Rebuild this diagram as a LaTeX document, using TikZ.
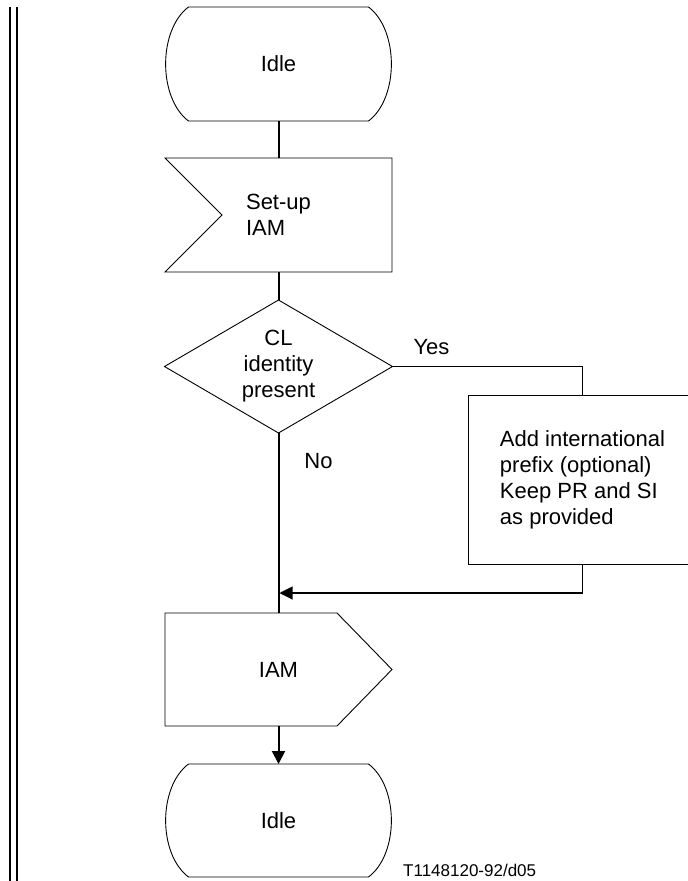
\documentclass[tikz,border=0pt]{standalone}
\usepackage{fontspec}
\setmainfont{Liberation Sans}
\usetikzlibrary{calc,arrows.meta}
\tikzset{
  frame/.style={inner sep=0pt, outer sep=0pt, align=center, font=\fontsize{22}{26}\selectfont},
  outline/.style={draw=black, line width=0.9pt, line join=miter},
  flow/.style={draw=black, line width=2pt},
  branch/.style={draw=black, line width=1.1pt},
  tip/.style={-{Triangle[length=13pt,width=13pt]}},
  lbl/.style={inner sep=0pt, font=\fontsize{22}{26}\selectfont},
  reflbl/.style={inner sep=0pt, font=\fontsize{17}{20}\selectfont},
  bar/.style={draw=black, line width=2.3pt}
}
\begin{document}
\begin{tikzpicture}[x=1pt,y=-1pt]
\useasboundingbox (0,0) rectangle (688,881);
\clip (0,0) rectangle (688,881);

% left margin double bar
\draw[bar] (10,7) -- (10,885);
\draw[bar] (16.7,7) -- (16.7,885);

% top Idle (state)
\node[frame, minimum width=225pt, minimum height=114pt] (idle1) at (278.5,64) {Idle};
\draw[outline] ($(idle1.north west)+(22.5,0)$) -- ($(idle1.north east)+(-22.5,0)$)
  .. controls ($(idle1.north east)+(8,23)$) and ($(idle1.south east)+(8,-23)$) .. ($(idle1.south east)+(-22.5,0)$)
  -- ($(idle1.south west)+(22.5,0)$)
  .. controls ($(idle1.south west)+(-8,-23)$) and ($(idle1.north west)+(-8,23)$) .. cycle;

% Set-up IAM (input signal)
\node[frame, align=left, minimum width=227pt, minimum height=114pt] (setup) at (278.5,215) {Set-up\\IAM};
\draw[outline] (setup.north west) -- (setup.north east) -- (setup.south east) -- (setup.south west)
  -- ($(setup.west)+(57,0)$) -- cycle;

% decision
\node[frame, minimum width=228pt, minimum height=133pt] (dec) at (278.5,366.5) {CL\\identity\\present};
\draw[outline] (dec.north) -- (dec.east) -- (dec.south) -- (dec.west) -- cycle;

% task box (extends beyond right edge)
\node[frame, align=left, minimum width=229pt, minimum height=169pt] (act) at (582.5,479.5)
  {Add international\\prefix (optional)\\Keep PR and SI\\as provided};
\draw[outline] (act.north west) rectangle (act.south east);

% IAM output signal
\node[frame, minimum width=227pt, minimum height=113pt] (out) at (278.5,669.5) {IAM};
\draw[outline] (out.north west) -- ($(out.north east)+(-55,0)$) -- (out.east)
  -- ($(out.south east)+(-55,0)$) -- (out.south west) -- cycle;

% bottom Idle (state)
\node[frame, minimum width=225pt, minimum height=113pt] (idle2) at (278.5,820.5) {Idle};
\draw[outline] ($(idle2.north west)+(22.5,0)$) -- ($(idle2.north east)+(-22.5,0)$)
  .. controls ($(idle2.north east)+(8,23)$) and ($(idle2.south east)+(8,-23)$) .. ($(idle2.south east)+(-22.5,0)$)
  -- ($(idle2.south west)+(22.5,0)$)
  .. controls ($(idle2.south west)+(-8,-23)$) and ($(idle2.north west)+(-8,23)$) .. cycle;

% connectors
\draw[flow] (idle1.south) -- (setup.north);
\draw[flow] (setup.south) -- (dec.north);
\draw[flow] (dec.south) -- (out.north);
\draw[flow, tip] (out.south) -- (idle2.north);
\draw[branch] (dec.east) -| (act.north);
\coordinate (merge) at (279.5,593);
\draw[branch, tip] (act.south) |- (merge);

% labels
\node[lbl, anchor=base] (yes) at (431.5,354) {Yes};
\node[lbl, anchor=base] (no) at (318.5,468) {No};
\node[reflbl, anchor=base west] (ref) at (403,876) {T1148120-92/d05};
\end{tikzpicture}
\end{document}
